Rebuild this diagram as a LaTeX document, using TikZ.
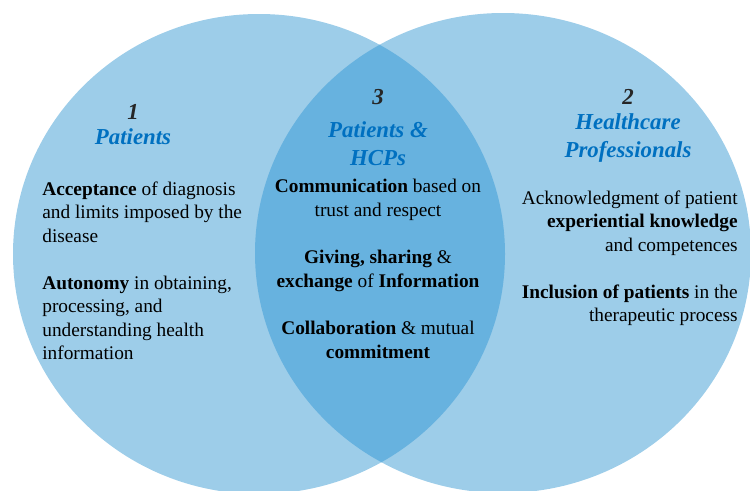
\documentclass[tikz,border=0pt]{standalone}
\usepackage{fontspec}
\setmainfont{Liberation Serif}
\usepackage{tikz}
\usetikzlibrary{shapes}

\definecolor{VennLight}{RGB}{157,205,233}
\definecolor{VennDark}{RGB}{103,178,223}
\definecolor{TitleBlue}{RGB}{0,112,192}

\begin{document}
\begin{tikzpicture}[x=0.02cm, y=-0.02cm,
  numlabel/.style={font=\fontsize{13}{15.9}\selectfont\bfseries\itshape, text=black!85, inner sep=0pt},
  setlabel/.style={font=\fontsize{13}{15.9}\selectfont\bfseries\itshape, text=TitleBlue, align=center, inner sep=0pt},
  bodytext/.style={font=\fontsize{11}{13.3}\selectfont, inner sep=0pt}]
\useasboundingbox (0,0) rectangle (750,490);

\begin{scope}
\clip (0,0) rectangle (750,490);
\fill[VennLight] (259,254) ellipse [x radius=246, y radius=240];
\fill[VennLight] (503,253) ellipse [x radius=248, y radius=240];
\begin{scope}
\clip (259,254) ellipse [x radius=246, y radius=240];
\fill[VennDark] (503,253) ellipse [x radius=248, y radius=240];
\end{scope}
\end{scope}

% 1 - left set
\node[numlabel] (num1) at (133,112) {1};
\node[setlabel] (patients) at (133,137) {Patients};
\node[bodytext, align=left, anchor=west] (accept) at (42,212) {\textbf{Acceptance} of diagnosis\\and limits\ imposed by the\\disease};
\node[bodytext, align=left, anchor=west] (autonomy) at (42,318) {\textbf{Autonomy} in obtaining,\\processing, and\\understanding health\\information};

% 3 - overlap
\node[numlabel] (num3) at (378,97) {3};
\node[setlabel] (both) at (378,144) {Patients \&\\HCPs};
\node[bodytext, align=center] (commun) at (378,200) {\textbf{Communication} based on\\trust and respect};
\node[bodytext, align=center] (giving) at (378,271) {\textbf{Giving, sharing} \&\\\textbf{exchange} of \textbf{Information}};
\node[bodytext, align=center] (collab) at (378,340) {\textbf{Collaboration}\ \& mutual\\\textbf{commitment}};

% 2 - right set
\node[numlabel] (num2) at (628,97) {2};
\node[setlabel] (hcp) at (628,138) {Healthcare\\Professionals};
\node[bodytext, align=right, anchor=east] (acknow) at (738,223) {Acknowledgment of patient\\\textbf{experiential knowledge}\\and competences};
\node[bodytext, align=right, anchor=east] (inclus) at (738,305) {\textbf{Inclusion of patients} in the\\therapeutic process};

\end{tikzpicture}
\end{document}
